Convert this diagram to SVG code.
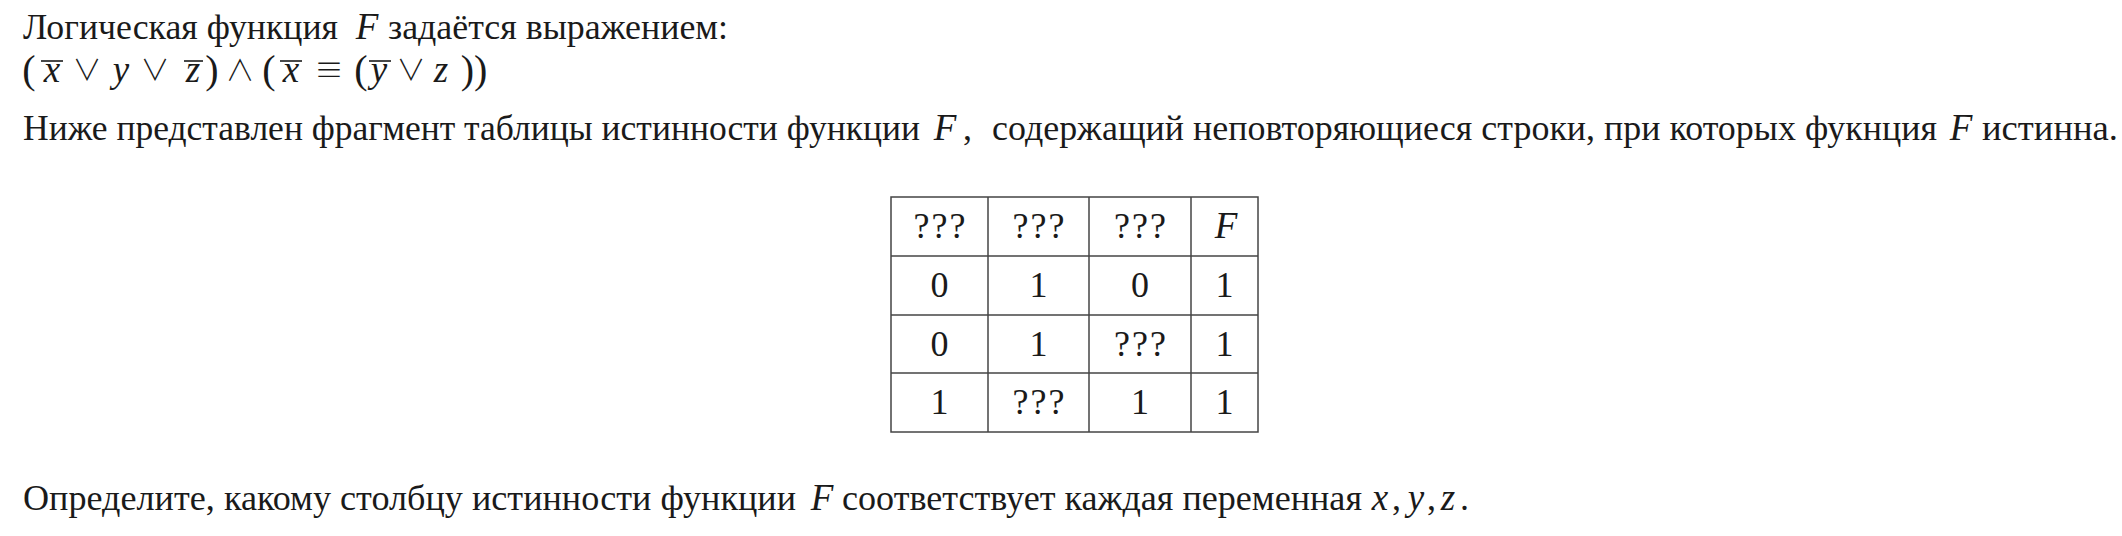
<svg xmlns="http://www.w3.org/2000/svg" width="2122" height="536" viewBox="0 0 2122 536">
<style>
.t{font-family:"Liberation Serif","Times New Roman",serif;font-size:36px;fill:#1a1a1a}
.m{font-family:"Liberation Serif","Times New Roman",serif;font-size:37px;font-style:italic;fill:#1a1a1a;text-anchor:middle}
.p{font-family:"Liberation Serif","Times New Roman",serif;font-size:40px;fill:#1a1a1a;text-anchor:middle}
.s{font-family:"Noto Sans CJK JP","DejaVu Sans",sans-serif;font-size:29px;font-weight:300;fill:#1a1a1a;text-anchor:middle}
.c{font-family:"Liberation Serif","Times New Roman",serif;font-size:36px;fill:#1a1a1a;text-anchor:middle}
.q{font-family:"Liberation Serif","Times New Roman",serif;font-size:36px;fill:#1a1a1a;text-anchor:middle;letter-spacing:2px}
.ci{font-family:"Liberation Serif","Times New Roman",serif;font-size:37px;font-style:italic;fill:#1a1a1a;text-anchor:middle}
.ol{stroke:#1a1a1a;stroke-width:1.6}
.g{stroke:#444;stroke-width:1.5;fill:none}
</style>
<rect width="2122" height="536" fill="#fff"/>
<g id="line1">
<text class="t" x="23" y="39" textLength="315" lengthAdjust="spacingAndGlyphs">Логическая функция</text>
<text class="m" x="367" y="39">F</text>
<text class="t" x="388" y="39" textLength="340" lengthAdjust="spacingAndGlyphs">задаётся выражением:</text>
</g>
<g id="formula">
<text class="p" x="29" y="83">(</text>
<text class="m" x="52" y="82">x</text>
<line class="ol" x1="41" y1="61" x2="63" y2="61"/>
<text class="s" x="87" y="81">∨</text>
<text class="m" x="121" y="82">y</text>
<text class="s" x="155" y="81">∨</text>
<text class="m" x="193" y="82">z</text>
<line class="ol" x1="184" y1="61" x2="203" y2="61"/>
<text class="p" x="212" y="83">)</text>
<text class="s" x="240" y="81">∧</text>
<text class="p" x="269" y="83">(</text>
<text class="m" x="291" y="82">x</text>
<line class="ol" x1="280" y1="61" x2="302" y2="61"/>
<text class="s" x="329" y="81">≡</text>
<text class="p" x="361" y="83">(</text>
<text class="m" x="379" y="82">y</text>
<line class="ol" x1="369" y1="61" x2="391" y2="61"/>
<text class="s" x="411" y="81">∨</text>
<text class="m" x="441" y="82">z</text>
<text class="p" x="474" y="83">))</text>
</g>
<g id="line3">
<text class="t" x="23" y="140" textLength="897" lengthAdjust="spacingAndGlyphs">Ниже представлен фрагмент таблицы истинности функции</text>
<text class="m" x="945" y="140">F</text>
<text class="t" x="963" y="140">,</text>
<text class="t" x="992" y="140" textLength="945" lengthAdjust="spacingAndGlyphs">содержащий неповторяющиеся строки, при которых фукнция</text>
<text class="m" x="1961" y="140">F</text>
<text class="t" x="1982" y="140" textLength="136" lengthAdjust="spacingAndGlyphs">истинна.</text>
</g>
<g id="table">
<rect class="g" x="891" y="197" width="367" height="235"/>
<line class="g" x1="988" y1="197" x2="988" y2="432"/>
<line class="g" x1="1089" y1="197" x2="1089" y2="432"/>
<line class="g" x1="1191" y1="197" x2="1191" y2="432"/>
<line class="g" x1="891" y1="256" x2="1258" y2="256"/>
<line class="g" x1="891" y1="315" x2="1258" y2="315"/>
<line class="g" x1="891" y1="373" x2="1258" y2="373"/>
<text class="q" x="940.5" y="238">???</text>
<text class="q" x="1039.5" y="238">???</text>
<text class="q" x="1141" y="238">???</text>
<text class="ci" x="1226" y="238">F</text>
<text class="c" x="939.5" y="297">0</text>
<text class="c" x="1038.5" y="297">1</text>
<text class="c" x="1140" y="297">0</text>
<text class="c" x="1224.5" y="297">1</text>
<text class="c" x="939.5" y="356">0</text>
<text class="c" x="1038.5" y="356">1</text>
<text class="q" x="1141" y="356">???</text>
<text class="c" x="1224.5" y="356">1</text>
<text class="c" x="939.5" y="414">1</text>
<text class="q" x="1039.5" y="414">???</text>
<text class="c" x="1140" y="414">1</text>
<text class="c" x="1224.5" y="414">1</text>
</g>
<g id="line4">
<text class="t" x="23" y="510" textLength="773" lengthAdjust="spacingAndGlyphs">Определите, какому столбцу истинности функции</text>
<text class="m" x="822" y="510">F</text>
<text class="t" x="842" y="510" textLength="520" lengthAdjust="spacingAndGlyphs">соответствует каждая переменная</text>
<text class="m" x="1380" y="510">x</text>
<text class="t" x="1392" y="510">,</text>
<text class="m" x="1416" y="510">y</text>
<text class="t" x="1427" y="510">,</text>
<text class="m" x="1448" y="510">z</text>
<text class="t" x="1460" y="510">.</text>
</g>
</svg>
